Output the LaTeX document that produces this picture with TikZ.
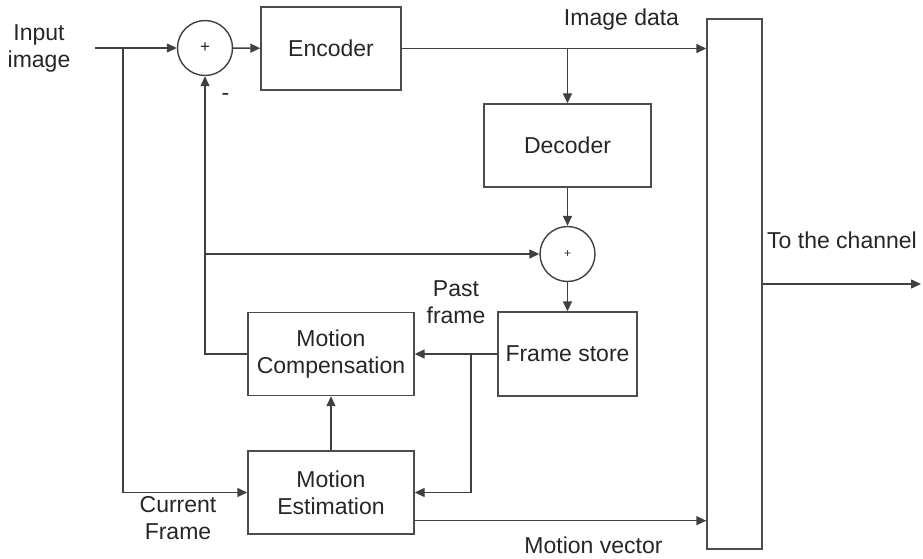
\documentclass[tikz,border=0pt]{standalone}
\usepackage{fontspec}
\setmainfont{Liberation Sans}
\usetikzlibrary{arrows.meta}
\begin{document}
\begin{tikzpicture}[x=1pt,y=-1pt,
  line/.style={draw=black!75, line width=1.4pt},
  arr/.style={line, -{Triangle[length=10pt,width=9pt]}},
  blk/.style={draw=black!70, line width=1.4pt, rectangle, inner sep=0pt, align=center},
  sumnode/.style={draw=black!75, line width=1.4pt, circle, inner sep=0pt, minimum size=55pt},
  lbl/.style={inner sep=0pt, align=center},
  every node/.style={text=black!85, font=\fontsize{23}{27}\selectfont}]
\useasboundingbox (0,0) rectangle (923,559);

% blocks
\node[sumnode] (s1) at (205,48) {\fontsize{17}{20}\selectfont +};
\node[blk, minimum width=140pt, minimum height=83pt] (enc) at (331,48.5) {Encoder};
\node[blk, minimum width=167pt, minimum height=83pt] (dec) at (567.5,145.5) {Decoder};
\node[sumnode] (s2) at (567.5,254) {\fontsize{12}{14}\selectfont +};
\node[blk, minimum width=139pt, minimum height=84pt] (fs) at (567.5,354) {Frame store};
\node[blk, minimum width=166pt, minimum height=83pt] (mc) at (331,354) {Motion\\Compensation};
\node[blk, minimum width=166pt, minimum height=83pt] (me) at (331,492.5) {Motion\\Estimation};
\node[blk, minimum width=55pt, minimum height=530pt] (mux) at (734.5,284) {};

% junctions
\coordinate (in) at (95,48);
\coordinate (b1) at (123,48);
\coordinate (b2) at (dec.north |- enc.east);
\coordinate (b3) at (s1.south |- s2.west);
\coordinate (b4) at (471,354);
\coordinate (out) at (921,284);

% connectors
\draw[arr] (in) -- (s1);
\draw[arr] (b1) |- (me.west);
\draw[arr] (s1) -- (enc);
\draw[arr] (enc.east) -- (enc.east -| mux.west);
\draw[arr] (b2) -- (dec.north);
\draw[arr] (dec) -- (s2);
\draw[arr] (s2) -- (fs);
\draw[arr] (fs.west) -- (mc.east);
\draw[arr] (b4) |- (me.east);
\draw[arr] (mc.west) -| (s1.south);
\draw[arr] (b3) -- (s2.west);
\draw[arr] (me) -- (mc);
\draw[arr] ([yshift=14pt]me.south east) coordinate (mvs) -- (mvs -| mux.west);
\draw[arr] (mux.east) -- (out);

% labels
\node[lbl] (lin) at (39,48.6) {Input\\image};
\node[lbl, anchor=base] (limg) at (621.5,26) {Image data};
\node[lbl] (lminus) at (225.5,97) {-};
\node[lbl] (lpast) at (456,302) {Past\\frame};
\node[lbl, anchor=base] (lchan) at (842,248) {To the channel};
\node[lbl] (lcur) at (178,518) {Current\\Frame};
\node[lbl, anchor=base] (lmv) at (593.5,553) {Motion vector};
\end{tikzpicture}
\end{document}
